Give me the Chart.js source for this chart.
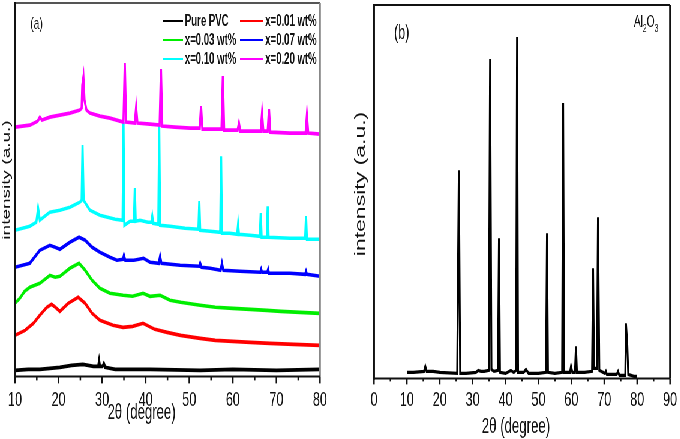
<!DOCTYPE html>
<html>
<head>
<meta charset="utf-8">
<script src="https://cdn.jsdelivr.net/npm/chart.js@4.4.0/dist/chart.umd.min.js"></script>
<style>
  html, body { margin: 0; padding: 0; background: #fff; overflow: hidden; }
  #frame { position: absolute; left: 0; top: 0; width: 680px; height: 439px; overflow: hidden; }
  /* the original figure is squeezed sideways, so draw wide and squeeze */
  #squeeze { position: absolute; left: 0; top: 0; width: 1134px; height: 439px; transform: scaleX(0.6); transform-origin: 0 0; }
  canvas { position: absolute; top: 0; }
</style>
</head>
<body>
<div id="frame"><div id="squeeze">
  <canvas id="pvc-chart" width="567" height="439" style="left:0"></canvas>
  <canvas id="alumina-chart" width="567" height="439" style="left:567px"></canvas>
</div></div>
<script>
const FONT = "'Liberation Sans', Arial, sans-serif";

// (a) PVC / Al2O3 composites
const xTicksA = [10, 20, 30, 40, 50, 60, 70, 80];
const seriesNames = ['Pure PVC', 'x=0.01 wt%', 'x=0.03 wt%', 'x=0.07 wt%', 'x=0.10 wt%', 'x=0.20 wt%'];
const seriesColors = ['#000000', '#ff0000', '#00ee00', '#0000ff', '#00ffff', '#ff00ff'];

const purePvc = [[10,6],[13,7],[15.7,7],[18,8],[20.3,9],[23,11],[25.6,12],[28,10],[29.1,10],[29.3,16],[29.5,10],[30.1,10],[30.4,13],[30.7,9],[33,7],[41,7],[52.5,6],[60,7],[70,6],[80,7]];
const pvc001 = [[10,41],[12.3,46],[14.2,53],[15.7,61],[17.3,69],[18.4,72],[19.3,69],[20.3,65],[22.2,73],[24.5,79],[26.1,73],[27.7,63],[29.5,56],[32.5,51],[34.8,49],[37,50],[39.4,53],[42.1,47],[44.9,44],[48,41],[52.5,38],[56,36],[60,35],[64,34],[68.5,33],[74,32],[80,31]];
const pvc003 = [[10,73],[11.1,78],[12.2,85],[13.4,89],[15.7,93],[18,101],[19.2,99],[20.3,100],[22.6,108],[24.7,113],[26.1,106],[27.7,96],[29.5,88],[31.8,83],[34.8,81],[37,80],[39.4,83],[41,80],[43.3,81],[45.6,76],[48,74],[52.5,71],[56,69],[60,68],[64,67],[67.8,66],[71,65],[75.4,64],[80,63]];
const pvc007 = [[10,109],[13.4,113],[15.7,126],[18,131],[19.2,129],[20.3,127],[22.6,134],[24.7,139],[26.1,136],[27.7,129],[29.5,124],[31.8,119],[33.4,116],[34.8,117],[35,121],[35.3,116],[37.3,116],[39.5,118],[41,114],[43,113],[43.3,120],[43.6,113],[47.9,111],[52.3,110],[52.5,113],[52.8,109],[54.8,108],[57.2,106],[57.5,113],[57.8,106],[61.6,105],[66.3,104],[66.5,107],[66.7,104],[67.9,104],[68.1,107],[68.3,103],[73.1,103],[76.6,102],[76.8,105],[77,102],[80,100]];
const pvc010 = [[10,146],[13.4,150],[14.9,154],[15.3,168],[15.7,156],[18,164],[20.3,166],[22.6,169],[24.9,174],[25.3,176],[25.5,231],[25.75,176],[27.2,166],[29.5,161],[33,157],[34.7,156],[34.9,254],[35.1,151],[36.4,155],[37.3,155],[37.5,188],[37.7,155],[38.7,156],[40.5,154],[41.3,154],[41.5,160],[41.7,153],[42.9,152],[43.1,251],[43.3,151],[45.6,150],[49,148],[52.1,147],[52.3,175],[52.5,146],[54.8,145],[57.1,144],[57.3,220],[57.5,143],[59.3,143],[61,142],[61.2,152],[61.4,142],[63.9,141],[66.2,140],[66.4,163],[66.6,139],[67.8,139],[68,170],[68.2,139],[73.1,138],[76.6,138],[76.8,160],[77,137],[80,137]];
const pvc020 = [[10,249],[13.4,251],[15.2,255],[15.7,259],[16.2,256],[18,259],[20.3,261],[22.6,263],[24.9,266],[25.3,268],[25.45,291],[25.7,299],[25.95,276],[26.4,266],[27.2,263],[29.5,260],[31.8,258],[34.1,255],[34.9,254],[35.2,313],[35.5,254],[37.5,253],[37.8,269],[38.1,253],[41,252],[43.2,251],[43.5,307],[43.8,250],[46.7,249],[50.2,248],[52.4,248],[52.7,270],[53,247],[55.9,247],[57.4,247],[57.7,300],[58,246],[61.1,246],[61.4,253],[61.7,245],[63.9,245],[66.4,245],[66.7,263],[67,245],[68,245],[68.3,267],[68.6,244],[73.1,243],[76.7,243],[77,261],[77.3,243],[80,242]];

// (b) Al2O3 powder
const xTicksB = [0, 10, 20, 30, 40, 50, 60, 70, 80, 90];
const alumina = [[10,6],[12,6],[15.2,7],[15.6,12],[16,7],[18,7],[20,6],[25.3,5],[25.8,208],[26.2,5],[28,5],[31,6],[31.7,8],[32.5,7],[33.5,7],[34.9,8],[35.3,319],[35.7,9],[36.5,7],[37.7,8],[38,140],[38.3,6],[40,5],[41.6,8],[42.5,6],[43.2,8],[43.5,341],[43.8,6],[45.5,6],[46.2,9],[47,5],[50,5],[52.3,6],[52.6,145],[52.9,6],[55,5],[57.2,6],[57.5,275],[57.8,6],[59.6,6],[59.9,12],[60.3,6],[61.1,6],[61.4,32],[61.7,6],[64,6],[66.3,7],[66.6,110],[66.9,10],[67.8,10],[68.1,161],[68.5,8],[70.2,5],[70.5,7],[70.8,4],[73.8,4],[74.2,7],[74.6,3],[76.4,3],[76.6,55],[77,34],[77.3,4],[79,2],[80,2]];

function toPoints(s) {
  return s.map(([x, y]) => ({x, y}));
}

// ticks, box and texts drawn on top of the chart
function decorPlugin(cfg) {
  return {
    id: 'decor',
    afterDraw(chart) {
      const {ctx, chartArea: a} = chart;
      const x = chart.scales.x;
      ctx.save();
      ctx.lineCap = 'butt';
      ctx.strokeStyle = '#111';
      ctx.lineWidth = 2.5;
      for (let v = x.min; v <= x.max; v += 5) {
        const px = x.getPixelForValue(v);
        const len = v % 10 === 0 ? cfg.major : cfg.minor;
        ctx.beginPath();
        ctx.moveTo(px, a.bottom);
        ctx.lineTo(px, a.bottom + len);
        ctx.stroke();
      }
      const line = (x1, y1, x2, y2, c, w) => {
        ctx.strokeStyle = c; ctx.lineWidth = w;
        ctx.beginPath(); ctx.moveTo(x1, y1); ctx.lineTo(x2, y2); ctx.stroke();
      };
      line(a.left, a.top, a.right, a.top, cfg.topColor, 1.8);
      line(a.right, a.top, a.right, a.bottom, cfg.rightColor, 3);
      line(a.left, a.bottom, a.right, a.bottom, '#111', 2);
      line(a.left, a.top - 1, a.left, a.bottom + 1, '#111', 3.3);

      ctx.fillStyle = '#111';
      cfg.texts.forEach(t => {
        ctx.save();
        ctx.font = t.font;
        ctx.textAlign = 'center';
        ctx.textBaseline = 'middle';
        ctx.translate(t.x, t.y);
        if (t.rotate) ctx.rotate(-Math.PI / 2);
        ctx.fillText(t.text, 0, 0);
        ctx.restore();
      });

      if (cfg.legend) {
        const L = cfg.legend;
        seriesNames.forEach((name, i) => {
          const row = Math.floor(i / 2), col = i % 2;
          const y = L.rows[row];
          const c = L.cols[col];
          line(c[0], y, c[1], y, seriesColors[i], 2.2);
          ctx.fillStyle = '#111';
          ctx.font = 'bold 16px ' + FONT;
          ctx.textAlign = 'left';
          ctx.textBaseline = 'middle';
          ctx.fillText(name, c[2], y + 0.5);
        });
      }

      if (cfg.formula) {
        // Al2O3 with subscripts, right aligned
        const parts = [['Al', 17, 0], ['2', 11, 5], ['O', 17, 0], ['3', 11, 5]];
        let widths = parts.map(p => { ctx.font = p[1] + 'px ' + FONT; return ctx.measureText(p[0]).width; });
        let px = cfg.formula.right - widths.reduce((s, w) => s + w, 0);
        ctx.fillStyle = '#111';
        ctx.textAlign = 'left';
        ctx.textBaseline = 'alphabetic';
        parts.forEach((p, i) => {
          ctx.font = p[1] + 'px ' + FONT;
          ctx.fillText(p[0], px, cfg.formula.base + p[2]);
          px += widths[i];
        });
      }
      ctx.restore();
    }
  };
}

function xAxis(min, max, tickList, pad) {
  return {
    type: 'linear', min, max,
    afterBuildTicks: s => { s.ticks = tickList.map(v => ({value: v})); },
    ticks: {font: {family: FONT, size: 21}, color: '#111', padding: pad, maxRotation: 0, autoSkip: false},
    grid: {color: 'transparent', tickLength: 6, drawTicks: true},
    border: {display: false}
  };
}

new Chart(document.getElementById('pvc-chart'), {
  type: 'line',
  data: {
    datasets: [purePvc, pvc001, pvc003, pvc007, pvc010, pvc020].map((s, i) => ({
      label: seriesNames[i],
      data: toPoints(s),
      borderColor: seriesColors[i],
      borderWidth: 3.6,
      pointRadius: 0,
      tension: 0,
      order: 5 - i
    }))
  },
  options: {
    responsive: false,
    animation: false,
    layout: {padding: {left: 25, right: 33.7, top: 3, bottom: 20.2}},
    plugins: {legend: {display: false}, tooltip: {enabled: false}},
    scales: {
      x: xAxis(10, 80, xTicksA, 5.6),
      y: {display: false, min: 0, max: 373}
    }
  },
  plugins: [decorPlugin({
    major: 7, minor: 4, topColor: '#555', rightColor: '#888',
    texts: [
      {text: '(a)', x: 61, y: 24, font: '17px ' + FONT},
      {text: 'intensity (a.u.)', x: 11, y: 180, font: '19px ' + FONT, rotate: true},
      {text: '2\u03b8 (degree)', x: 236, y: 413, font: '22px ' + FONT}
    ],
    legend: {rows: [21, 40, 59], cols: [[272, 305, 308], [400, 438, 442]]}
  })]
});

new Chart(document.getElementById('alumina-chart'), {
  type: 'line',
  data: {
    datasets: [{
      label: 'Al2O3',
      data: toPoints(alumina),
      borderColor: '#000000',
      borderWidth: 3.2,
      pointRadius: 0,
      tension: 0
    }]
  },
  options: {
    responsive: false,
    animation: false,
    layout: {padding: {left: 56.3, right: 17.3, top: 5, bottom: 22.2}},
    plugins: {legend: {display: false}, tooltip: {enabled: false}},
    scales: {
      x: xAxis(0, 90, xTicksB, 3.6),
      y: {display: false, min: 0, max: 373}
    }
  },
  plugins: [decorPlugin({
    major: 6, minor: 3, topColor: '#111', rightColor: '#111',
    texts: [
      {text: '(b)', x: 102.5, y: 33, font: '21px ' + FONT},
      {text: 'intensity (a.u.)', x: 35, y: 184, font: '23px ' + FONT, rotate: true},
      {text: '2\u03b8 (degree)', x: 293, y: 427, font: '22px ' + FONT}
    ],
    formula: {right: 530, base: 27}
  })]
});
</script>
</body>
</html>
